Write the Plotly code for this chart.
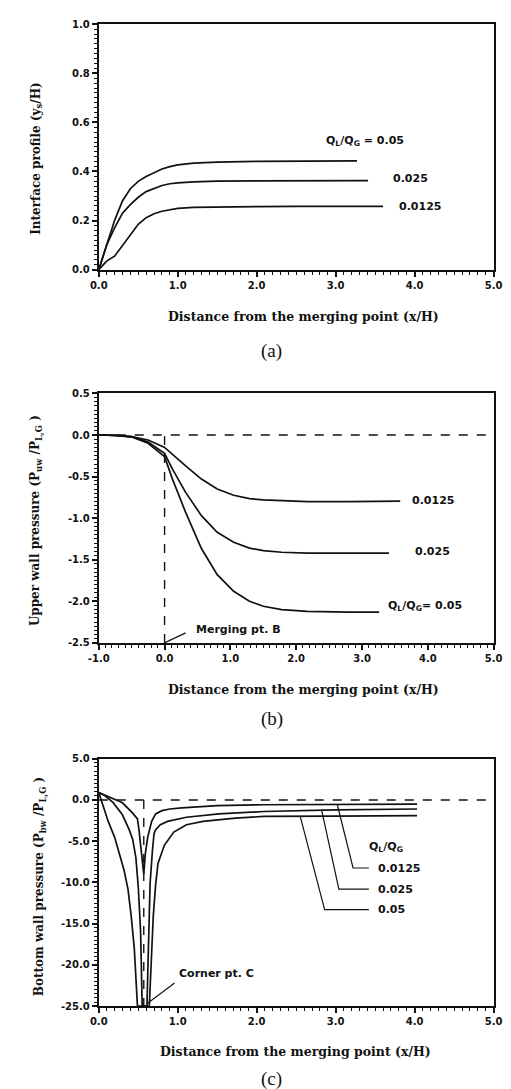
import plotly.graph_objects as go

W, H = 511, 1089

# ---------------- Panel (a): interface profile ----------------
a_x_005 = [0, 0.05, 0.1, 0.2, 0.3, 0.4, 0.5, 0.6, 0.7, 0.8, 0.9, 1.0, 1.2, 1.5, 2.0, 2.5, 3.0, 3.27]
a_y_005 = [0, 0.05, 0.10, 0.20, 0.28, 0.33, 0.36, 0.38, 0.395, 0.41, 0.42, 0.427, 0.434, 0.438, 0.441, 0.442, 0.443, 0.443]
a_x_0025 = [0, 0.05, 0.1, 0.2, 0.3, 0.4, 0.5, 0.6, 0.7, 0.8, 0.9, 1.0, 1.2, 1.5, 2.0, 2.5, 3.0, 3.41]
a_y_0025 = [0, 0.05, 0.10, 0.17, 0.23, 0.265, 0.295, 0.318, 0.33, 0.343, 0.35, 0.354, 0.358, 0.361, 0.362, 0.363, 0.363, 0.363]
a_x_00125 = [0, 0.1, 0.2, 0.3, 0.4, 0.5, 0.6, 0.7, 0.8, 0.9, 1.0, 1.2, 1.5, 2.0, 2.5, 3.0, 3.6]
a_y_00125 = [0, 0.035, 0.055, 0.10, 0.145, 0.185, 0.212, 0.228, 0.238, 0.245, 0.25, 0.254, 0.256, 0.257, 0.258, 0.258, 0.258]

# ---------------- Panel (b): upper wall pressure ----------------
b_x_00125 = [-1.0, -0.75, -0.5, -0.25, 0.0, 0.12, 0.32, 0.56, 0.80, 1.05, 1.29, 1.5, 1.78, 2.17, 2.8, 3.58]
b_y_00125 = [0.0, -0.005, -0.02, -0.06, -0.15, -0.235, -0.37, -0.53, -0.65, -0.725, -0.765, -0.78, -0.79, -0.80, -0.80, -0.795]
b_x_0025 = [-1.0, -0.75, -0.5, -0.25, 0.0, 0.12, 0.32, 0.56, 0.80, 1.05, 1.29, 1.5, 1.78, 2.17, 2.8, 3.41]
b_y_0025 = [0.0, -0.005, -0.02, -0.085, -0.22, -0.41, -0.69, -0.97, -1.17, -1.29, -1.36, -1.39, -1.41, -1.42, -1.42, -1.42]
b_x_005 = [-1.0, -0.75, -0.5, -0.25, 0.0, 0.12, 0.32, 0.56, 0.80, 1.05, 1.29, 1.5, 1.78, 2.17, 2.8, 3.26]
b_y_005 = [0.0, -0.005, -0.025, -0.10, -0.26, -0.53, -0.93, -1.365, -1.68, -1.88, -2.0, -2.06, -2.10, -2.12, -2.13, -2.13]

# ---------------- Panel (c): bottom wall pressure ----------------
c_x_00125 = [0, 0.14, 0.30, 0.43, 0.49, 0.51, 0.55, 0.57, 0.59, 0.62, 0.67, 0.72, 0.80, 0.90, 1.05, 1.5, 2.09, 3.0, 4.03]
c_y_00125 = [0.9, 0.3, -0.35, -1.6, -2.3, -3.7, -6.9, -9.0, -6.5, -4.5, -2.6, -1.7, -1.3, -1.1, -0.95, -0.7, -0.58, -0.52, -0.5]
c_x_0025 = [0, 0.08, 0.18, 0.30, 0.385, 0.43, 0.47, 0.50, 0.53, 0.55, 0.61, 0.65, 0.68, 0.70, 0.72, 0.78, 0.87, 1.11, 1.52, 2.09, 3.0, 4.03]
c_y_0025 = [0.9, 0.5, -0.3, -1.8, -3.6, -4.8, -7.0, -10.5, -16.0, -25.0, -25.0, -10.1, -6.1, -4.1, -3.6, -3.0, -2.6, -2.1, -1.7, -1.4, -1.2, -1.1]
c_x_005 = [0, 0.06, 0.12, 0.20, 0.26, 0.32, 0.37, 0.41, 0.45, 0.49, 0.64, 0.69, 0.72, 0.75, 0.83, 0.95, 1.11, 1.32, 1.73, 2.09, 3.0, 4.03]
c_y_005 = [0.9, -0.8, -2.6, -4.5, -6.5, -8.5, -10.8, -14.0, -18.0, -25.0, -25.0, -14.1, -10.3, -7.7, -5.5, -3.9, -3.0, -2.6, -2.2, -2.0, -1.95, -1.9]

# reference (dashed) lines
b_zero_x = [-1.0, 5.0]
b_zero_y = [0.0, 0.0]
b_merge_x = [0.0, 0.0]
b_merge_y = [-2.5, 0.0]
c_zero_x = [0.0, 5.0]
c_zero_y = [0.0, 0.0]
c_corner_x = [0.57, 0.57]
c_corner_y = [0.0, -25.0]

# pointer lines for labels
b_ptr_x = [0.0, 0.32]
b_ptr_y = [-2.5, -2.38]
c_ptr_x = [0.61, 0.96]
c_ptr_y = [-24.7, -22.2]
c_lead_00125_x = [3.02, 3.22, 3.42]
c_lead_00125_y = [-0.55, -8.25, -8.25]
c_lead_0025_x = [2.82, 3.04, 3.42]
c_lead_0025_y = [-1.15, -10.8, -10.8]
c_lead_005_x = [2.55, 2.86, 3.42]
c_lead_005_y = [-1.95, -13.3, -13.3]

# tick labels
a_xticks = [0, 1, 2, 3, 4, 5]
a_yticks = [0.0, 0.2, 0.4, 0.6, 0.8, 1.0]
b_xticks = [-1, 0, 1, 2, 3, 4, 5]
b_yticks = [0.5, 0.0, -0.5, -1.0, -1.5, -2.0, -2.5]
c_xticks = [0, 1, 2, 3, 4, 5]
c_yticks = [5, 0, -5, -10, -15, -20, -25]

BLACK = "#111111"
TICKFONT = dict(family="DejaVu Sans", size=10, color=BLACK)
LBLFONT = dict(family="DejaVu Sans", size=11, color=BLACK)
TITLEFONT = dict(family="DejaVu Serif", size=12.5, color=BLACK)
YTITLEFONT = dict(family="DejaVu Serif", size=12, color=BLACK)

fig = go.Figure()

def line(x, y, ax, width=1.7, dash=None):
    fig.add_trace(go.Scatter(x=x, y=y, mode="lines", xaxis=ax[0], yaxis=ax[1],
                             line=dict(color=BLACK, width=width, dash=dash),
                             showlegend=False, hoverinfo="skip"))

A = ("x", "y"); B = ("x2", "y2"); C = ("x3", "y3")
line(a_x_005, a_y_005, A)
line(a_x_0025, a_y_0025, A)
line(a_x_00125, a_y_00125, A)

line(b_zero_x, b_zero_y, B, 1.4, "dash")
line(b_merge_x, b_merge_y, B, 1.4, "dash")
line(b_x_00125, b_y_00125, B)
line(b_x_0025, b_y_0025, B)
line(b_x_005, b_y_005, B)
line(b_ptr_x, b_ptr_y, B, 1.2)

line(c_zero_x, c_zero_y, C, 1.4, "dash")
line(c_corner_x, c_corner_y, C, 1.4, "dash")
line(c_x_00125, c_y_00125, C)
line(c_x_0025, c_y_0025, C)
line(c_x_005, c_y_005, C)
line(c_ptr_x, c_ptr_y, C, 1.2)
line(c_lead_00125_x, c_lead_00125_y, C, 1.2)
line(c_lead_0025_x, c_lead_0025_y, C, 1.2)
line(c_lead_005_x, c_lead_005_y, C, 1.2)

def px_x(p):
    return p / W

def px_y(p):
    return 1 - p / H

xdom = [px_x(83), px_x(494)]
dom_a = [px_y(258.3), px_y(10.3)]
dom_b = [px_y(635.3), px_y(383.3)]
dom_c = [px_y(1002.3), px_y(752.3)]

def common(rng, ticks, minor):
    return dict(range=rng, tickvals=ticks,
                ticktext=[f"<b>{t:.1f}</b>" for t in ticks],
                showline=True, linecolor=BLACK, linewidth=2, mirror=True,
                ticks="outside", ticklen=5, tickwidth=1.5, tickcolor=BLACK,
                minor=dict(dtick=minor, ticks="outside", ticklen=3, tickwidth=1, tickcolor=BLACK),
                showgrid=False, zeroline=False, tickfont=TICKFONT)

def xax(rng, ticks, anchor, minor):
    d = common(rng, ticks, minor)
    d.update(domain=xdom, anchor=anchor)
    return d

def yax(rng, ticks, dom, anchor, minor):
    d = common(rng, ticks, minor)
    d.update(domain=dom, anchor=anchor)
    return d

fig.update_layout(
    width=W, height=H, margin=dict(l=0, r=0, t=0, b=0),
    paper_bgcolor="white", plot_bgcolor="white",
    xaxis=xax([0, 5], a_xticks, "y", 0.1),
    yaxis=yax([0, 1], a_yticks, dom_a, "x", 0.02),
    xaxis2=xax([-1, 5], b_xticks, "y2", 0.1),
    yaxis2=yax([-2.5, 0.5], b_yticks, dom_b, "x2", 0.05),
    xaxis3=xax([0, 5], c_xticks, "y3", 0.1),
    yaxis3=yax([-25, 5], c_yticks, dom_c, "x3", 0.5),
)

ann = []
def text(t, x, y, xref, yref, font, xanchor="left", angle=0, yanchor="middle"):
    ann.append(dict(text=t, x=x, y=y, xref=xref, yref=yref, showarrow=False,
                    font=font, xanchor=xanchor, yanchor=yanchor, textangle=angle))

QLG = "Q<sub>L</sub>/Q<sub>G</sub>"
# panel (a) labels
text(f"<b>{QLG} = 0.05</b>", 2.85, 0.524, "x", "y", LBLFONT)
text("<b>0.025</b>", 3.70, 0.372, "x", "y", LBLFONT)
text("<b>0.0125</b>", 3.77, 0.259, "x", "y", LBLFONT)
# panel (b) labels
text("<b>0.0125</b>", 3.73, -0.79, "x2", "y2", LBLFONT)
text("<b>0.025</b>", 3.77, -1.40, "x2", "y2", LBLFONT)
text(f"<b>{QLG}= 0.05</b>", 3.36, -2.06, "x2", "y2", LBLFONT)
text("<b>Merging pt. B</b>", 0.44, -2.34, "x2", "y2", LBLFONT)
# panel (c) labels
text(f"<b>{QLG}</b>", 3.40, -5.7, "x3", "y3", LBLFONT)
text("<b>0.0125</b>", 3.51, -8.3, "x3", "y3", LBLFONT)
text("<b>0.025</b>", 3.51, -10.8, "x3", "y3", LBLFONT)
text("<b>0.05</b>", 3.51, -13.3, "x3", "y3", LBLFONT)
text("<b>Corner pt. C</b>", 0.99, -21.0, "x3", "y3", LBLFONT)

# axis titles
XT = "<b>Distance from the merging point (x/H)</b>"
text(XT, px_x(296), px_y(306), "paper", "paper", TITLEFONT, "center")
text(XT, px_x(296), px_y(682), "paper", "paper", TITLEFONT, "center")
text(XT, px_x(288), px_y(1048), "paper", "paper", TITLEFONT, "center")
text("<b>Interface profile (y<sub>s</sub>/H)</b>", px_x(18), px_y(146), "paper", "paper", YTITLEFONT, "center", -90)
text("<b>Upper wall pressure (P<sub>uw</sub> /P<sub>L,G</sub> )</b>", px_x(18), px_y(512), "paper", "paper", YTITLEFONT, "center", -90)
text("<b>Bottom wall pressure (P<sub>bw</sub> /P<sub>L,G</sub> )</b>", px_x(22), px_y(882), "paper", "paper", YTITLEFONT, "center", -90)

CAPFONT = dict(family="Liberation Serif", size=19, color=BLACK)
text("(a)", px_x(263), px_y(340), "paper", "paper", CAPFONT, "center")
text("(b)", px_x(263), px_y(712), "paper", "paper", CAPFONT, "center")
text("(c)", px_x(263), px_y(1089), "paper", "paper", CAPFONT, "center", 0, "bottom")

fig.update_layout(annotations=ann)
fig.write_html("out.html")
